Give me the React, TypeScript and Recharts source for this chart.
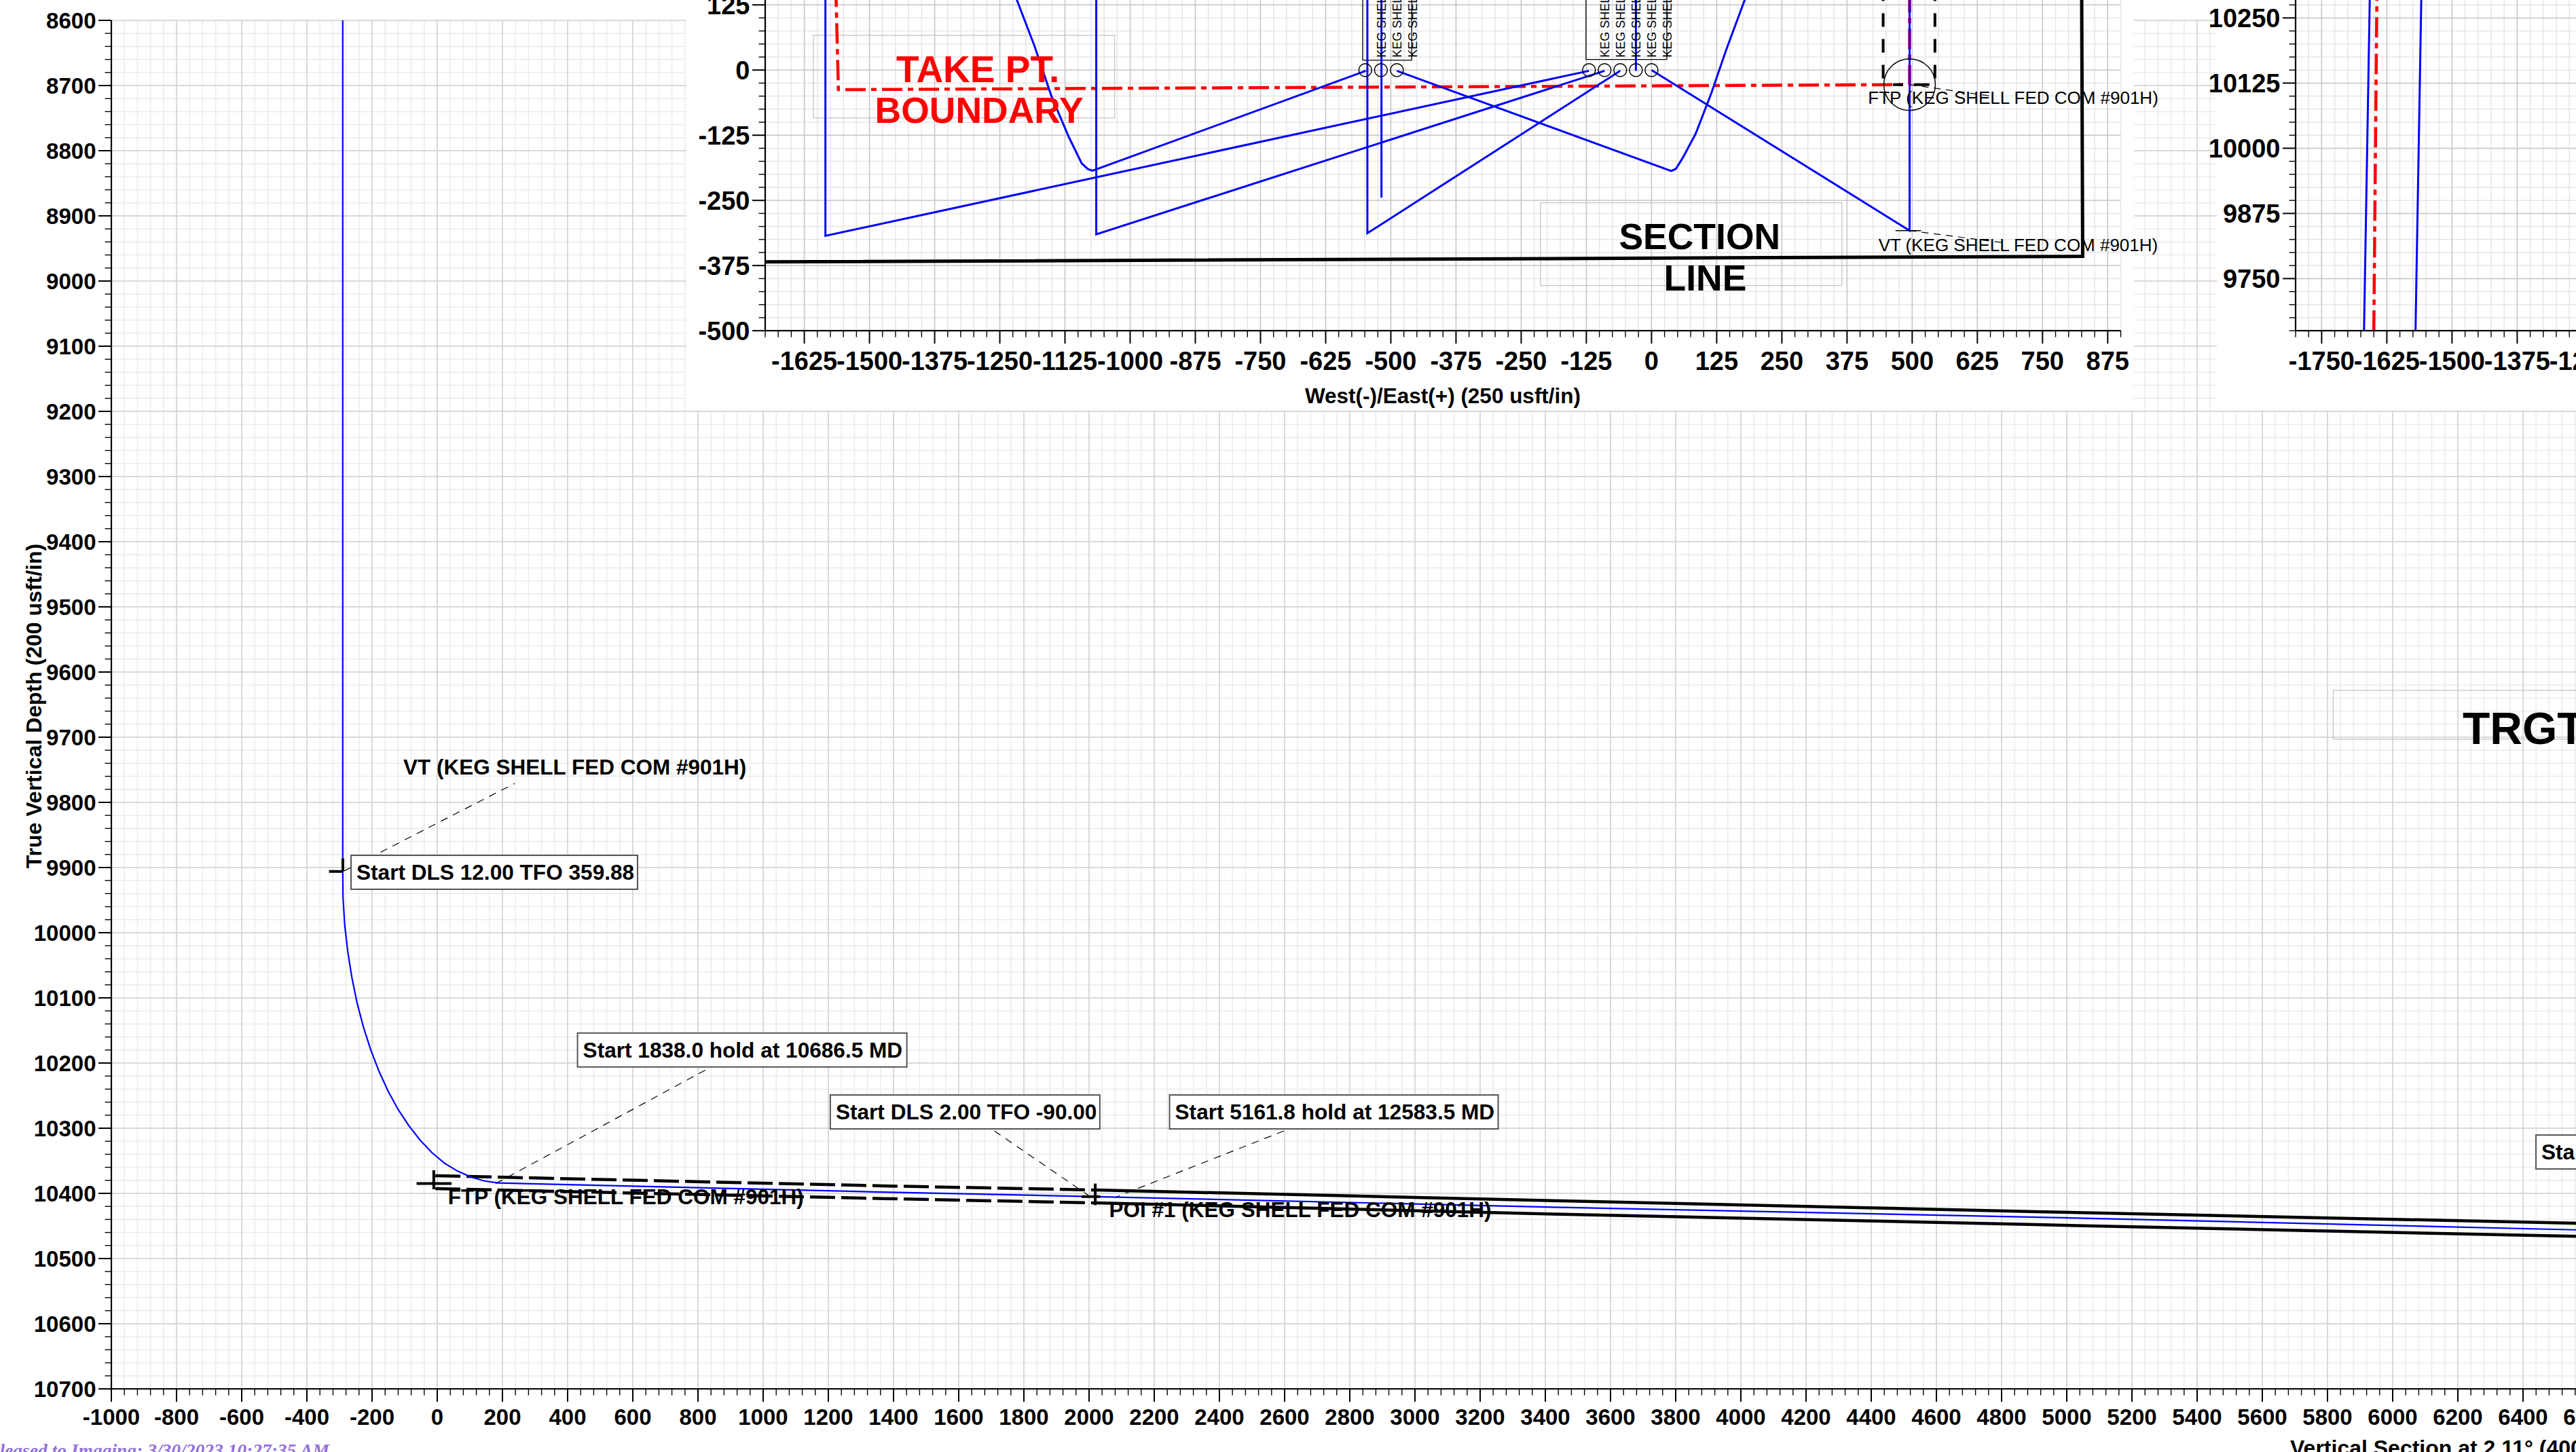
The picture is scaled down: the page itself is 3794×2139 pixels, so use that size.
import React from 'react';
import { ComposedChart, XAxis, YAxis, CartesianGrid, Line, ReferenceDot, ReferenceArea } from 'recharts';

type P = number[][];
const seq = (a: number, b: number, s: number) => { const o: number[] = []; for (let v = a; v <= b + 1e-6; v += s) o.push(v); return o; };

// ---- main section view
const mainXMajor = seq(-1000, 6800, 200);
const mainXMinor = seq(-1000, 6800, 40);
const mainYMajor = seq(8600, 10700, 100);
const mainYMinor = seq(8600, 10700, 20);

const wellbore: P = [[-290, 8600], [-290, 9905], [-289, 9947], [-284, 9988], [-274.7, 10028.6], [-262.2, 10068], [-246.3, 10107], [-227, 10144], [-204.6, 10179], [-179.3, 10212], [-151, 10243], [-120.4, 10271], [-87.4, 10296], [-52.3, 10318.5], [-15.3, 10338], [23.2, 10354], [62.9, 10366], [103.6, 10375], [144.9, 10381], [186.5, 10384], [1367, 10398], [2020, 10405], [3450, 10421.5], [4908, 10436.5], [6562, 10456], [6800, 10458.5]];
const upperDash: P = [[-6, 10372.9], [1367, 10388.5], [2020, 10394.8]];
const upperSolid: P = [[2020, 10394.8], [3450, 10411.5], [4908, 10428], [6562, 10445.8], [6800, 10448.4]];
const lowerDash: P = [[-6, 10392.7], [1367, 10408], [2020, 10414.6]];
const lowerSolid: P = [[2020, 10414.6], [3450, 10432], [4908, 10448], [6562, 10466], [6800, 10468.6]];
const mainMarks: P[] = [
  [[-332, 9906], [-289, 9906]],
  [[-289.6, 9886], [-289.6, 9906]],
  [[-10.7, 10364.6], [-10.7, 10393.7]],
  [[-63.5, 10385], [44, 10385]],
  [[2019, 10385], [2019, 10418]],
  [[1977, 10405], [2035, 10405]],
];
const mainLeaders: P[] = [
  [[-285.4, 9905.2], [237.3, 9771]],
  [[179.2, 10385], [837.5, 10206.8]],
  [[1709.4, 10304.2], [1998, 10403.1]],
  [[2597.9, 10304.2], [2079.2, 10406.3]],
];
const boxedLabels = [
  { x: -264.6, y: 9907.3, text: 'Start DLS 12.00 TFO 359.88' },
  { x: 430.4, y: 10180, text: 'Start 1838.0 hold at 10686.5 MD' },
  { x: 1206, y: 10275, text: 'Start DLS 2.00 TFO -90.00' },
  { x: 2247, y: 10275, text: 'Start 5161.8 hold at 12583.5 MD' },
  { x: 6439.6, y: 10336.5, text: 'Start' },
];
const boxWidths = [422, 485, 397, 484, 120];
const plainLabels = [
  { x: -104, y: 9745.8, text: 'VT (KEG SHELL FED COM #901H)' },
  { x: 33, y: 10405, text: 'FTP (KEG SHELL FED COM #901H)' },
  { x: 2061.5, y: 10424.6, text: 'POI #1 (KEG SHELL FED COM #901H)' },
];

// ---- plan view inset
const planXMajor = seq(-1625, 875, 125);
const planXMinor = seq(-1700, 900, 25);
const planYMajor = seq(-500, 125, 125);
const planYMinor = seq(-500, 150, 25);
const planBlue: P[] = [
  [[-1584.5, 160], [-1584.5, -318], [-120, -1.5]],
  [[-1065, 160], [-1065, -315], [-90, -1.5]],
  [[-1226, 160], [-1217.5, 135], [-1184, 47.6], [-1151, -50], [-1118, -127.7], [-1093, -179], [-1081, -190], [-1072, -193], [-548, -1.5]],
  [[-545, 160], [-545, -313], [-60, -1.5]],
  [[-518, 160], [-518, -244.5]],
  [[-30, 160], [-30, -1.5]],
  [[-488.4, -1.5], [37.8, -193.6], [46.7, -189.5], [59.6, -168.9], [84.5, -122.5], [114.5, -45], [144.4, 42], [179, 135], [185, 160]],
  [[0, 0], [495, -308], [495, 160]],
];
const planRed: P = [[-1564.6, 160], [-1559.6, -37.6], [495, -28], [495, 160]];
const planSection: P = [[-1700, -368], [827, -357.3], [825, 160]];
const planDashA: P = [[444.3, 158.6], [444.3, -28]];
const planDashB: P = [[543.6, 158.6], [543.6, -28]];
const planBars: P[] = [[[463, -28], [482.5, -28]], [[503, -28], [533, -28]], [[468, -308], [517, -308]]];
const planLeaders: P[] = [[[495, -28], [652.5, -50]], [[495, -308], [672.5, -331]]];
const wellCircles = [-549, -519, -488.4, -120, -90, -60, -30, 0];
const wellLabelX = [-517.8, -488, -458.9, -90, -60, -30, 0, 30];
const wellLabelText = 'KEG SHELL FED COM #901H';
const planBoxes = [
  { x1: -554, x2: -460, y1: 19, y2: 170 },
  { x1: -125.7, x2: 29.3, y1: 20.3, y2: 170 },
  { x1: -1607.5, x2: -1029.8, y1: -91.7, y2: 66.4 },
  { x1: -212.9, x2: 365.2, y1: -413.2, y2: -254.4 },
];
const planTitles = [
  { x: -1292.3, y: 2, text: 'TAKE PT.' },
  { x: -1289.7, y: -76.7, text: 'BOUNDARY' },
  { x: 92.3, y: -319, text: 'SECTION' },
  { x: 103, y: -397.3, text: 'LINE' },
];
const planNotes = [
  { x: 415.4, y: -52.6, text: 'FTP (KEG SHELL FED COM #901H)' },
  { x: 435.3, y: -334.6, text: 'VT (KEG SHELL FED COM #901H)' },
];

// ---- third inset
const detailXMajor = seq(-1750, -1125, 125);
const detailXMinor = seq(-1800, -1100, 25);
const detailYMajor = seq(9750, 10250, 125);
const detailYMinor = seq(9650, 10300, 25);
const detailBlueA: P = [[-1668.75, 9650], [-1657.5, 10300]];
const detailBlueB: P = [[-1570, 9650], [-1558.7, 10300]];
const detailRed: P = [[-1650, 9650], [-1644, 10300]];

// ---- helpers
const FONT = "'Liberation Sans', Arial, sans-serif";
const pts = (a: P) => a.map(([x, y]) => ({ x, y }));

const xTick = (majors: number[], fs: number, off: number) => (p: any) => {
  const v = p.payload.value;
  const maj = majors.includes(v);
  return (
    <g>
      <line x1={p.x} x2={p.x} y1={p.y} y2={p.y + (maj ? 19 : 9.5)} stroke="#000" strokeWidth={maj ? 2 : 1.4} />
      {maj && <text x={p.x} y={p.y + off} textAnchor="middle" fontFamily={FONT} fontWeight="bold" fontSize={fs} fill="#000">{v}</text>}
    </g>
  );
};
const yTick = (majors: number[], fs: number) => (p: any) => {
  const v = p.payload.value;
  const maj = majors.includes(v);
  return (
    <g>
      <line x1={p.x} x2={p.x - (maj ? 19 : 9.5)} y1={p.y} y2={p.y} stroke="#000" strokeWidth={maj ? 2 : 1.4} />
      {maj && <text x={p.x - 22.5} y={p.y} dy="0.36em" textAnchor="end" fontFamily={FONT} fontWeight="bold" fontSize={fs} fill="#000">{v}</text>}
    </g>
  );
};
const seg = (d: P, key: string, stroke: string, width: number, dash?: string) => (
  <Line key={key} data={pts(d)} dataKey="y" type="linear" dot={false} activeDot={false} stroke={stroke} strokeWidth={width} strokeDasharray={dash} isAnimationActive={false} legendType="none" />
);
const grids = (xMinor: number[], yMinor: number[], xMajor: number[], yMajor: number[], major: string, minor: string) => [
  <CartesianGrid key="gmin" stroke={minor} strokeWidth={1.5} verticalValues={xMinor} horizontalValues={yMinor} />,
  <CartesianGrid key="gmaj" stroke={major} strokeWidth={1.5} verticalValues={xMajor} horizontalValues={yMajor} />,
];

export default function App() {
  return (
    <div style={{ position: 'fixed', left: 0, top: 0, width: 3794, height: 2139, overflow: 'hidden', background: '#fff' }}>
      {/* main section view */}
      <div style={{ position: 'absolute', left: 0, top: 0 }}>
        <ComposedChart width={3950} height={2160} margin={{ top: 30, right: 42, bottom: 54, left: 0 }}>
          {grids(mainXMinor, mainYMinor, mainXMajor, mainYMajor, '#d2d2d2', '#ebebeb')}
          <XAxis dataKey="x" type="number" domain={[-1000, 6800]} allowDataOverflow ticks={mainXMinor} interval={0} height={60} tickSize={0} tickMargin={0} tickLine={false} axisLine={{ stroke: '#000', strokeWidth: 2.2 }} tick={xTick(mainXMajor, 33, 53)} />
          <YAxis type="number" reversed domain={[8600, 10700]} allowDataOverflow ticks={mainYMinor} interval={0} width={164} tickSize={0} tickMargin={0} tickLine={false} axisLine={{ stroke: '#000', strokeWidth: 2.2 }} tick={yTick(mainYMajor, 33)} />
          <ReferenceArea x1={5817.7} x2={6900} y1={9628} y2={9703} fill="none" stroke="#c4c4c4" strokeWidth={1.3} ifOverflow="visible" />
          {mainLeaders.map((d, i) => seg(d, 'lead' + i, '#000', 1.2, '11 9'))}
          {seg(upperDash, 'ud', '#000', 4.5, '37 9')}
          {seg(lowerDash, 'ld', '#000', 4.5, '37 9')}
          {seg(upperSolid, 'us', '#000', 4.5)}
          {seg(lowerSolid, 'ls', '#000', 4.5)}
          {seg(wellbore, 'wb', '#0000ff', 2.2)}
          {mainMarks.map((d, i) => seg(d, 'mk' + i, '#000', 4))}
          {boxedLabels.map((b, i) => (
            <ReferenceDot key={'bx' + i} x={b.x} y={b.y} r={0} ifOverflow="visible" shape={(p: any) => (
              <g>
                <rect x={p.cx} y={p.cy - 25} width={boxWidths[i]} height={50} fill="#fff" stroke="#555" strokeWidth={2} />
                <text x={p.cx + 8} y={p.cy} dy="0.36em" fontFamily={FONT} fontWeight="bold" fontSize={31.6} fill="#000">{b.text}</text>
              </g>
            )} />
          ))}
          {plainLabels.map((b, i) => (
            <ReferenceDot key={'pl' + i} x={b.x} y={b.y} r={0} ifOverflow="visible" shape={(p: any) => (
              <text x={p.cx} y={p.cy} dy="0.36em" fontFamily={FONT} fontWeight="bold" fontSize={31.5} fill="#000">{b.text}</text>
            )} />
          ))}
          <ReferenceDot x={6214.6} y={9685.4} r={0} ifOverflow="visible" shape={(p: any) => (
            <text x={p.cx} y={p.cy} dy="0.36em" fontFamily={FONT} fontWeight="bold" fontSize={66} fill="#000">TRGT</text>
          )} />
          <text transform="translate(61,1040) rotate(-90)" textAnchor="middle" fontFamily={FONT} fontWeight="bold" fontSize={32} fill="#000">True Vertical Depth (200 usft/in)</text>
          <text x={3373} y={2144} fontFamily={FONT} fontWeight="bold" fontSize={32} fill="#000">Vertical Section at 2.11° (400 usft/in)</text>
          <text x={485} y={2146} textAnchor="end" fontFamily="'Liberation Serif', serif" fontStyle="italic" fontWeight="bold" fontSize={27.5} fill="#9370db">Released to Imaging: 3/30/2023 10:27:35 AM</text>
        </ComposedChart>
      </div>

      {/* white panels behind the insets */}
      <div style={{ position: 'absolute', left: 1011, top: 0, width: 2132, height: 605, background: '#fff' }} />
      <div style={{ position: 'absolute', left: 3265, top: 0, width: 529, height: 605, background: '#fff' }} />

      {/* plan view inset */}
      <div style={{ position: 'absolute', left: 1011, top: -31.6 }}>
        <ComposedChart width={2192} height={636.6} margin={{ top: 20, right: 79.5, bottom: 57.4, left: 0 }}>
          {grids(planXMinor, planYMinor, planXMajor, planYMajor, '#c8c8c8', '#e6e6e6')}
          <XAxis dataKey="x" type="number" domain={[-1700, 900]} allowDataOverflow ticks={planXMinor} interval={0} height={60} tickSize={0} tickMargin={0} tickLine={false} axisLine={{ stroke: '#000', strokeWidth: 2.2 }} tick={xTick(planXMajor, 38, 58)} />
          <YAxis type="number" domain={[-500, 150]} allowDataOverflow ticks={planYMinor} interval={0} width={116} tickSize={0} tickMargin={0} tickLine={false} axisLine={{ stroke: '#000', strokeWidth: 2.2 }} tick={yTick(planYMajor, 38)} />
          {planBoxes.map((b, i) => (
            <ReferenceArea key={'pb' + i} x1={b.x1} x2={b.x2} y1={b.y1} y2={b.y2} fill="none" stroke={i < 2 ? '#000' : '#c4c4c4'} strokeWidth={1.3} ifOverflow="visible" />
          ))}
          {seg(planSection, 'sec', '#000', 5)}
          {seg(planDashA, 'da', '#000', 4, '20 18')}
          {seg(planDashB, 'db', '#000', 4, '20 18')}
          {seg(planRed, 'red', '#ff0000', 4.5, '30 8 8 8')}
          {planBlue.map((d, i) => seg(d, 'pblue' + i, '#0000ff', 3))}
          {planBars.map((d, i) => seg(d, 'pbar' + i, '#000', i < 2 ? 4 : 1.5))}
          {planLeaders.map((d, i) => seg(d, 'plead' + i, '#000', 1.2, '10 8'))}
          {wellCircles.map((x, i) => (
            <ReferenceDot key={'wc' + i} x={x} y={0} r={9.5} fill="none" stroke="#000" strokeWidth={1.5} ifOverflow="visible" />
          ))}
          <ReferenceDot x={495} y={-28} r={38} fill="none" stroke="#000" strokeWidth={1.5} ifOverflow="visible" />
          {wellLabelX.map((x, i) => (
            <ReferenceDot key={'wl' + i} x={x} y={24} r={0} ifOverflow="visible" shape={(p: any) => (
              <text transform={`translate(${p.cx},${p.cy}) rotate(-90)`} dy="0.36em" fontFamily={FONT} fontSize={18} fill="#000">{wellLabelText}</text>
            )} />
          ))}
          {planTitles.map((t, i) => (
            <ReferenceDot key={'pt' + i} x={t.x} y={t.y} r={0} ifOverflow="visible" shape={(p: any) => (
              <text x={p.cx} y={p.cy} dy="0.36em" textAnchor="middle" fontFamily={FONT} fontWeight="bold" fontSize={i === 0 ? 55 : 53.5} fill={i < 2 ? '#ff0000' : '#000'}>{t.text}</text>
            )} />
          ))}
          {planNotes.map((t, i) => (
            <ReferenceDot key={'pn' + i} x={t.x} y={t.y} r={0} ifOverflow="visible" shape={(p: any) => (
              <text x={p.cx} y={p.cy} dy="0.36em" fontFamily={FONT} fontSize={26} fill="#000">{t.text}</text>
            )} />
          ))}
          <text x={1114} y={614.6} textAnchor="middle" fontFamily={FONT} fontWeight="bold" fontSize={31.5} fill="#000" dy="0.36em">West(-)/East(+) (250 usft/in)</text>
        </ComposedChart>
      </div>

      {/* third inset */}
      <div style={{ position: 'absolute', left: 3200, top: -31.6 }}>
        <ComposedChart width={738.6} height={636.6} margin={{ top: 20, right: 20, bottom: 57.4, left: 0 }}>
          {grids(detailXMinor, detailYMinor, detailXMajor, detailYMajor, '#c8c8c8', '#e6e6e6')}
          <XAxis dataKey="x" type="number" domain={[-1800, -1100]} allowDataOverflow ticks={detailXMinor} interval={0} height={60} tickSize={0} tickMargin={0} tickLine={false} axisLine={{ stroke: '#000', strokeWidth: 2.2 }} tick={xTick(detailXMajor, 38, 58)} />
          <YAxis type="number" domain={[9650, 10300]} allowDataOverflow ticks={detailYMinor} interval={0} width={181} tickSize={0} tickMargin={0} tickLine={false} axisLine={{ stroke: '#000', strokeWidth: 2.2 }} tick={yTick(detailYMajor, 38)} />
          {seg(detailRed, 'dred', '#ff0000', 4.5, '30 8 8 8')}
          {seg(detailBlueA, 'dba', '#0000ff', 3)}
          {seg(detailBlueB, 'dbb', '#0000ff', 3)}
        </ComposedChart>
      </div>
    </div>
  );
}
